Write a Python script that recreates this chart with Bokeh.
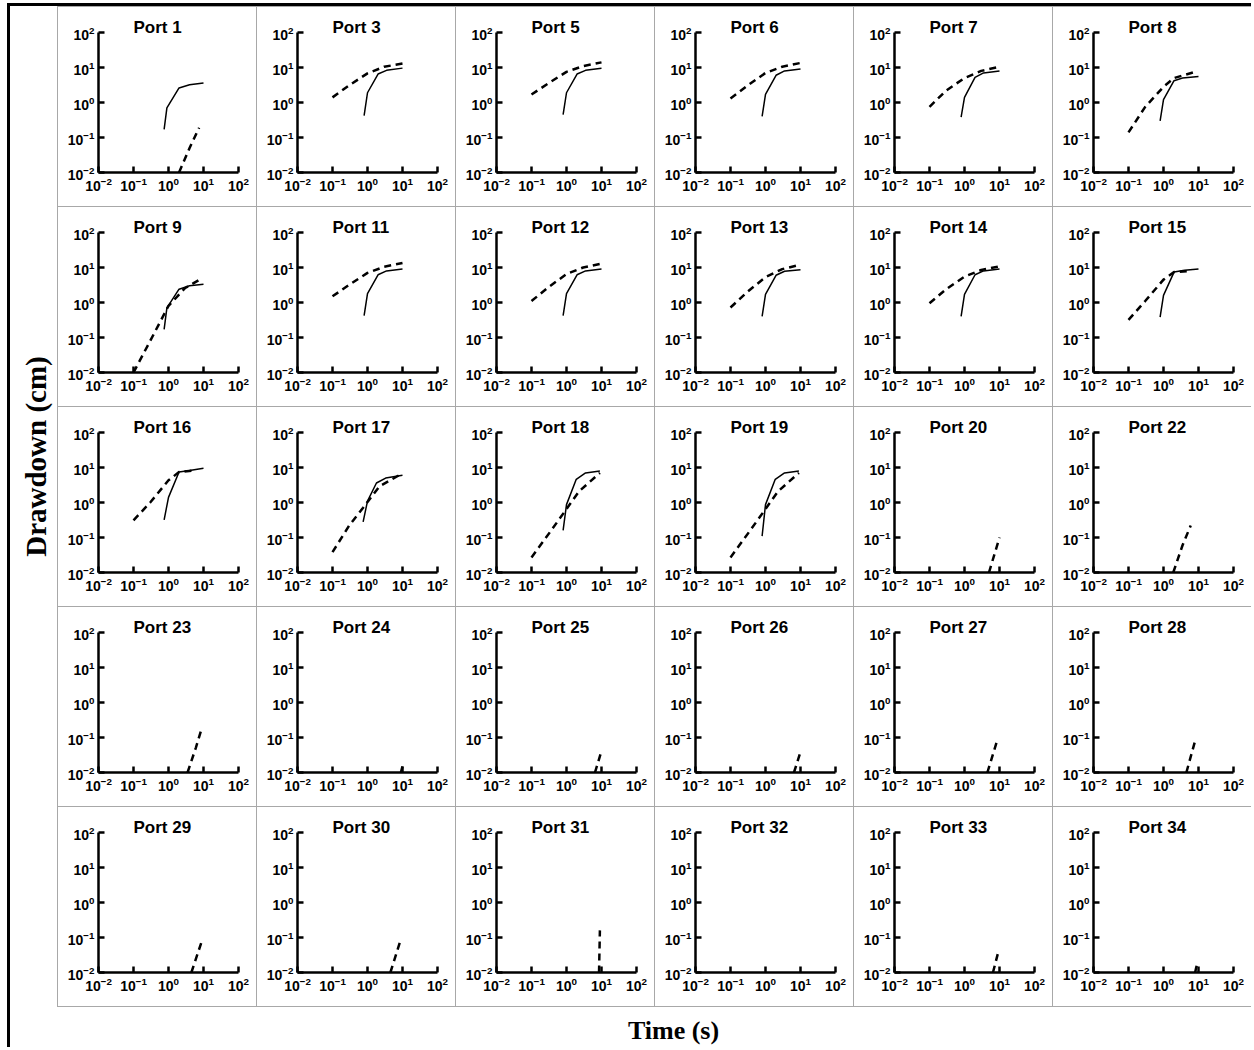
import math
from bokeh.plotting import figure
from bokeh.layouts import gridplot, row, column
from bokeh.models import FixedTicker, LogTickFormatter, Label
from bokeh.embed import file_html
from bokeh.resources import INLINE

# ---------------- data ----------------
TICKS = [0.01, 0.1, 1, 10, 100]
PORTS = ["Port 1", "Port 3", "Port 5", "Port 6", "Port 7", "Port 8",
         "Port 9", "Port 11", "Port 12", "Port 13", "Port 14", "Port 15",
         "Port 16", "Port 17", "Port 18", "Port 19", "Port 20", "Port 22",
         "Port 23", "Port 24", "Port 25", "Port 26", "Port 27", "Port 28",
         "Port 29", "Port 30", "Port 31", "Port 32", "Port 33", "Port 34"]

# solid curves (time s, drawdown cm)
t_obs_a = [0.75, 0.9, 2, 4, 10]
t_obs_b = [0.8, 1, 2, 3.5, 10]
p1_obs = [0.17, 0.7, 2.6, 3.2, 3.6]
p3_obs = [0.42, 1.9, 6.5, 8.3, 9.6]
p5_obs = [0.45, 1.9, 6.5, 8.3, 9.5]
p6_obs = [0.4, 1.7, 6.0, 8.0, 9.0]
p7_obs = [0.38, 1.4, 5.2, 7.0, 8.0]
p8_obs = [0.3, 1.2, 4.2, 5.0, 5.5]
p9_obs = [0.17, 0.7, 2.4, 3.0, 3.3]
p11_obs = [0.42, 1.8, 6.2, 8.0, 9.0]
p12_obs = [0.42, 1.8, 6.2, 8.0, 9.0]
p13_obs = [0.4, 1.7, 6.0, 7.8, 8.6]
p14_obs = [0.4, 1.7, 6.2, 8.0, 9.0]
t_obs_15 = [0.8, 1, 2, 4, 10]
p15_obs = [0.38, 1.6, 7.4, 8.3, 9.1]
t_obs_16 = [0.75, 1, 2, 4, 10]
p16_obs = [0.32, 1.4, 7.4, 8.2, 9.5]
t_obs_17 = [0.75, 1, 1.8, 3.3, 10]
p17_obs = [0.28, 1.1, 3.6, 5.0, 6.0]
t_obs_18 = [0.8, 1, 1.9, 3.5, 9]
p18_obs = [0.16, 0.87, 4.6, 7.0, 7.9]
p19_obs = [0.11, 0.87, 4.6, 7.0, 7.9]

# dashed curves (time s, drawdown cm)
t_sim_a = [0.1, 0.3, 1, 3, 10]
p1_sim_t = [2, 4, 7.5]
p1_sim = [0.01, 0.05, 0.19]
p3_sim = [1.4, 3.1, 6.8, 10.5, 13]
p5_sim = [1.7, 3.5, 7.5, 11, 14]
p6_sim = [1.3, 3.0, 7.0, 10.5, 13.5]
p7_sim = [0.75, 2.2, 5.0, 8.0, 10.5]
p8_sim_t = [0.1, 0.3, 1, 2, 8]
p8_sim = [0.14, 0.75, 2.8, 5.0, 7.5]
p9_sim_t = [0.1, 0.3, 1, 3, 8]
p9_sim = [0.01, 0.08, 0.8, 2.6, 4.6]
p11_sim = [1.5, 3.2, 7.0, 10.5, 13.5]
p12_sim = [1.1, 2.7, 6.5, 10, 13]
p13_sim = [0.72, 2.0, 5.3, 9.0, 12]
p14_sim = [0.95, 2.4, 5.5, 8.5, 10.8]
t_sim_15 = [0.1, 0.3, 1, 2, 6]
p15_sim = [0.32, 1.1, 4.5, 7.4, 8.0]
p16_sim = [0.31, 1.0, 4.3, 7.4, 8.3]
p17_sim_t = [0.1, 0.3, 0.75, 2.2, 8]
p17_sim = [0.038, 0.22, 0.71, 2.9, 6.0]
t_sim_18 = [0.1, 0.35, 1, 2.3, 9]
p18_sim = [0.027, 0.15, 0.65, 2.1, 7.0]
p19_sim = [0.027, 0.15, 0.65, 2.1, 7.0]
p20_sim_t, p20_sim = [5, 10], [0.01, 0.1]
p22_sim_t, p22_sim = [1.9, 3.5, 6], [0.01, 0.06, 0.22]
p23_sim_t, p23_sim = [3.5, 6, 9], [0.01, 0.05, 0.19]
p24_sim_t, p24_sim = [9, 10], [0.01, 0.015]
p25_sim_t, p25_sim = [6.5, 9.5], [0.01, 0.035]
p26_sim_t, p26_sim = [6.5, 9.5], [0.01, 0.033]
p27_sim_t, p27_sim = [4.5, 8.5], [0.01, 0.08]
p28_sim_t, p28_sim = [4.5, 8], [0.01, 0.08]
p29_sim_t, p29_sim = [4.5, 9], [0.01, 0.08]
p30_sim_t, p30_sim = [4.5, 8.5], [0.01, 0.075]
p31_sim_t, p31_sim = [8.5, 9], [0.01, 0.16]
p33_sim_t, p33_sim = [6.5, 9], [0.01, 0.035]
p34_sim_t, p34_sim = [8, 9], [0.01, 0.017]

OBS = [(t_obs_a, p1_obs), (t_obs_b, p3_obs), (t_obs_b, p5_obs), (t_obs_b, p6_obs),
       (t_obs_b, p7_obs), (t_obs_b, p8_obs), (t_obs_a, p9_obs), (t_obs_b, p11_obs),
       (t_obs_b, p12_obs), (t_obs_b, p13_obs), (t_obs_b, p14_obs), (t_obs_15, p15_obs),
       (t_obs_16, p16_obs), (t_obs_17, p17_obs), (t_obs_18, p18_obs), (t_obs_18, p19_obs)] + [None] * 14
SIM = [(p1_sim_t, p1_sim), (t_sim_a, p3_sim), (t_sim_a, p5_sim), (t_sim_a, p6_sim),
       (t_sim_a, p7_sim), (p8_sim_t, p8_sim), (p9_sim_t, p9_sim), (t_sim_a, p11_sim),
       (t_sim_a, p12_sim), (t_sim_a, p13_sim), (t_sim_a, p14_sim), (t_sim_15, p15_sim),
       (t_sim_15, p16_sim), (p17_sim_t, p17_sim), (t_sim_18, p18_sim), (t_sim_18, p19_sim),
       (p20_sim_t, p20_sim), (p22_sim_t, p22_sim), (p23_sim_t, p23_sim), (p24_sim_t, p24_sim),
       (p25_sim_t, p25_sim), (p26_sim_t, p26_sim), (p27_sim_t, p27_sim), (p28_sim_t, p28_sim),
       (p29_sim_t, p29_sim), (p30_sim_t, p30_sim), (p31_sim_t, p31_sim), None,
       (p33_sim_t, p33_sim), (p34_sim_t, p34_sim)]

SANS = "Liberation Sans"
SERIF = "Liberation Serif"


def make_panel(title, obs, sim):
    p = figure(width=198, height=199, x_axis_type="log", y_axis_type="log",
               x_range=(0.01, 100), y_range=(0.01, 100), title=title,
               toolbar_location=None, output_backend="svg",
               min_border_left=40, min_border_right=18,
               min_border_top=25, min_border_bottom=34,
               background_fill_color="white", border_fill_color="white")
    p.styles = {"background-color": "white"}
    p.title.align = "left"
    p.title.offset = 35
    p.title.standoff = -8
    p.title.vertical_align = "bottom"
    p.title.text_font = SANS
    p.title.text_font_style = "bold"
    p.title.text_font_size = "17px"
    p.title.text_color = "black"
    p.xgrid.visible = False
    p.ygrid.visible = False
    p.outline_line_color = None
    for ax in (p.xaxis[0], p.yaxis[0]):
        ax.ticker = FixedTicker(ticks=TICKS, minor_ticks=[])
        ax.formatter = LogTickFormatter()
        ax.axis_line_width = 2.5
        ax.axis_line_color = "black"
        ax.major_tick_line_width = 2.5
        ax.major_tick_line_color = "black"
        ax.major_tick_in = 6
        ax.major_tick_out = 0
        ax.minor_tick_line_color = None
        ax.major_label_text_font = SANS
        ax.major_label_text_font_style = "bold"
        ax.major_label_text_font_size = "14px"
        ax.major_label_text_color = "black"
    p.xaxis[0].major_label_standoff = 4
    p.yaxis[0].major_label_standoff = 4
    if obs is not None:
        p.line(obs[0], obs[1], line_color="black", line_width=1.5)
    if sim is not None:
        p.line(sim[0], sim[1], line_color="black", line_width=2.5, line_dash="7 5")
    return p


figs = [make_panel(PORTS[i], OBS[i], SIM[i]) for i in range(len(PORTS))]
gp = gridplot(figs, ncols=6, toolbar_location=None)
gp.spacing = 1
gp.styles = {"background-color": "#a8a8a8", "padding": "1px 0px 1px 1px"}


def blank(w, h):
    f = figure(width=w, height=h, toolbar_location=None, output_backend="svg",
               x_axis_location=None, y_axis_location=None, min_border=0,
               x_range=(0, 1), y_range=(0, 1))
    f.xgrid.visible = False
    f.ygrid.visible = False
    f.outline_line_color = None
    return f


ylab = blank(47, 1001)
ylab.add_layout(Label(x=25, y=551, x_units="screen", y_units="screen", angle=math.pi / 2,
                      text="Drawdown (cm)", text_align="center", text_baseline="middle",
                      text_font=SERIF, text_font_style="bold", text_font_size="29px",
                      text_color="black"))
xlab = blank(1241, 40)
xlab.add_layout(Label(x=663, y=17, x_units="screen", y_units="screen",
                      text="Time (s)", text_align="center", text_baseline="middle",
                      text_font=SERIF, text_font_style="bold", text_font_size="26px",
                      text_color="black"))

layout = column(row(ylab, gp), xlab)
layout.styles = {"border-left": "3px solid black", "border-top": "3px solid black",
                 "margin": "3px 0px 0px 7px"}

open("out.html", "w").write(file_html(layout, INLINE))
